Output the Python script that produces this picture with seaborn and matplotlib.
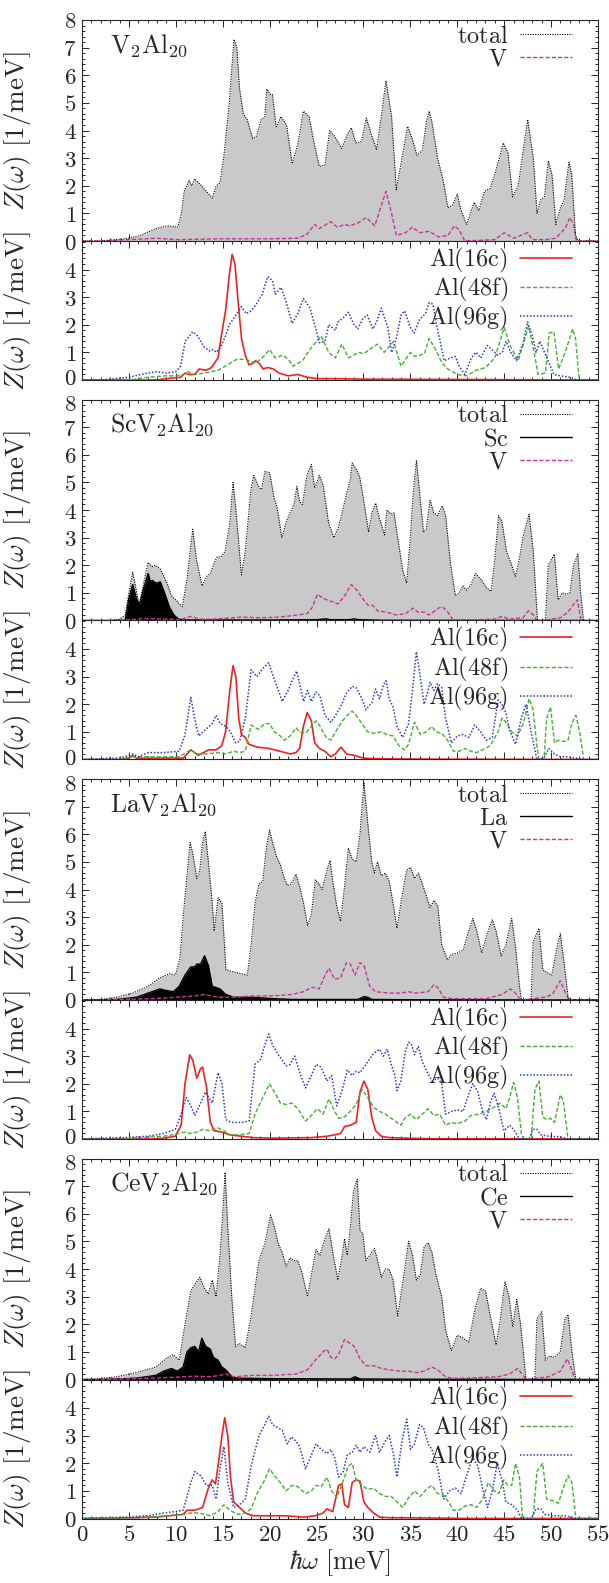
import numpy as np
import matplotlib
matplotlib.use("Agg")
import matplotlib.pyplot as plt
import matplotlib.transforms as mtransforms
import seaborn as sns
from matplotlib.ticker import MultipleLocator, FuncFormatter, FixedLocator

# ---------------- data (meV, 1/meV) ----------------
X_TICKS = [0, 5, 10, 15, 20, 25, 30, 35, 40, 45, 50, 55]

# ---- V2Al20 ----
TOT_V2AL20 = [(0,0),(2,0),(3.7,0.05),(5,0.1),(6.2,0.2),(7.9,0.45),(9.1,0.55),(10.2,0.5),(10.6,1.0),(10.9,1.8),(11.4,2.2),(11.7,2.0),(12.0,2.25),(12.6,2.05),(13.9,1.55),(14.3,2.0),(14.7,2.1),(15.1,3.0),(15.7,5.0),(16.2,7.3),(16.5,7.0),(16.8,5.5),(17.2,4.6),(17.6,4.4),(18.2,3.7),(18.6,3.8),(19.1,4.4),(19.5,4.5),(19.7,5.5),(20.1,5.3),(20.3,5.3),(20.7,4.1),(21.2,4.5),(21.8,4.2),(22.4,2.8),(23.0,3.5),(23.6,4.7),(24.2,4.5),(24.7,3.6),(25.3,2.7),(25.9,2.75),(26.4,4.0),(26.9,3.8),(27.7,3.35),(28.2,3.8),(28.7,4.1),(29.2,3.55),(29.8,3.6),(30.3,4.45),(30.9,3.8),(31.4,3.3),(31.9,4.5),(32.4,5.8),(33.0,4.5),(33.5,1.85),(34.0,2.8),(34.7,4.15),(35.2,3.7),(35.7,3.1),(36.3,3.3),(36.7,4.3),(37.0,4.7),(37.3,4.3),(37.9,3.0),(38.5,2.2),(39.0,1.2),(39.5,1.3),(40.0,1.7),(40.4,1.1),(41.0,0.6),(41.8,1.4),(42.3,1.1),(42.9,1.8),(43.5,1.9),(44.0,2.4),(44.9,3.55),(45.4,3.2),(45.9,1.6),(46.5,2.0),(47.5,4.4),(48.1,3.0),(48.5,1.0),(48.9,1.5),(49.3,1.6),(49.7,2.9),(50.1,2.4),(50.5,0.6),(51.0,1.2),(51.4,1.5),(51.9,2.85),(52.2,2.4),(52.6,0.2),(52.9,0),(55,0)]
V_V2AL20 = [(0,0),(2,0),(5,0.05),(8,0.1),(10,0.05),(15,0.08),(20,0.08),(23,0.1),(24,0.25),(24.8,0.6),(25.3,0.45),(26.5,0.7),(27.2,0.5),(28.0,0.6),(28.5,0.55),(29.4,0.65),(30.3,0.85),(31.2,0.55),(32.4,1.8),(33.0,1.0),(33.5,0.2),(34.5,0.3),(35.2,0.5),(36.0,0.3),(37.0,0.35),(38.0,0.15),(39.0,0.2),(39.7,0.55),(40.2,0.4),(40.8,0.0),(42,0.02),(44,0.05),(45.0,0.3),(46.0,0.1),(47.5,0.3),(48.0,0.05),(49.5,0.05),(50.5,0.1),(51.5,0.45),(52.0,0.85),(52.4,0.6),(52.7,0),(55,0)]
A16_V2AL20 = [(0,0),(8,0),(9,0.05),(10.5,0.1),(11,0.25),(11.4,0.2),(12,0.2),(12.5,0.4),(13.2,0.35),(13.8,0.45),(14.5,0.8),(14.8,1.5),(15.3,2.5),(15.7,3.8),(16.0,4.55),(16.3,4.2),(16.6,3.0),(17.0,1.5),(17.4,0.9),(17.8,0.55),(18.2,0.6),(18.5,0.7),(18.9,0.6),(19.3,0.4),(19.8,0.45),(20.4,0.4),(21,0.25),(22,0.15),(23,0.2),(24,0.1),(25,0.05),(27,0.05),(30,0.03),(40,0.02),(53,0),(55,0)]
A48_V2AL20 = [(0,0),(5,0),(7,0.1),(9,0.15),(10,0.15),(10.8,0.2),(11.3,0.3),(12,0.2),(13,0.25),(14.5,0.35),(15.5,0.55),(16.5,0.75),(17.5,0.75),(18.5,0.6),(19.2,0.8),(20,1.1),(20.6,0.8),(21.4,0.9),(22,0.75),(22.5,0.5),(23.5,0.7),(24.5,1.2),(25.5,1.6),(26.3,1.0),(27,0.8),(27.7,1.3),(28.4,0.8),(29.5,1.0),(30,0.95),(31.5,1.3),(32.2,1.0),(33.2,1.4),(34,0.5),(35,1.0),(35.5,0.85),(36.5,0.95),(37.0,1.5),(37.7,1.1),(38.4,0.6),(39,0.4),(40,0.2),(41,0.15),(42,0.35),(43,0.45),(44,0.8),(45,1.9),(45.7,1.2),(46.5,0.7),(47.6,1.95),(48.2,1.0),(48.6,0.2),(49.4,0.25),(49.8,1.7),(50.3,1.75),(50.8,0.4),(51.5,1.0),(52.3,1.85),(52.6,1.5),(53.0,0),(55,0)]
A96_V2AL20 = [(0,0),(2,0),(5,0.1),(7,0.25),(8,0.3),(9,0.25),(10,0.3),(10.5,0.5),(11,1.4),(11.8,1.75),(12.3,1.6),(13,1.2),(13.6,1.05),(14.0,1.1),(14.3,1.0),(14.8,1.2),(15.3,1.6),(15.7,2.0),(16.3,2.3),(17.0,2.65),(17.5,2.4),(18.0,2.5),(18.5,2.7),(19.2,3.1),(19.8,3.75),(20.3,3.6),(20.6,3.1),(21.2,3.35),(21.7,2.9),(22.4,2.05),(23.0,2.4),(23.6,2.95),(24.3,2.6),(24.8,2.0),(25.3,1.35),(25.9,1.4),(26.3,2.0),(27,1.8),(27.3,2.1),(28,2.3),(28.4,2.45),(29,2.0),(29.4,1.85),(29.9,2.2),(30.4,2.35),(31.0,1.85),(31.4,2.1),(31.9,2.6),(32.6,1.9),(33.0,1.0),(33.5,1.5),(34.0,2.35),(34.4,2.5),(35.0,1.9),(35.4,1.7),(36.0,2.2),(36.6,2.4),(37.0,2.8),(37.4,2.75),(37.8,2.0),(38.3,1.2),(38.6,0.7),(39.3,0.8),(39.8,0.85),(40.2,0.5),(40.8,0.2),(41.5,0.8),(42,1.0),(42.5,0.8),(43.2,1.25),(43.7,1.1),(44.3,0.9),(44.8,1.0),(45.2,1.4),(45.7,1.0),(46.3,0.7),(47.0,1.3),(47.5,2.1),(48.0,1.6),(48.4,1.0),(48.8,1.4),(49.3,1.0),(49.8,0.6),(50.3,0.2),(51,0.15),(52,0.1),(52.8,0),(55,0)]

# ---- ScV2Al20 ----
TOT_SCV2AL20 = [(0,0),(3,0),(4.0,0.05),(4.6,0.2),(5.0,1.0),(5.4,1.75),(6.1,0.55),(6.6,1.4),(7.05,2.1),(7.46,1.95),(7.87,2.0),(8.37,1.85),(9.12,1.3),(9.53,0.9),(10.7,0.5),(11.2,1.5),(11.8,3.3),(12.2,2.2),(12.8,1.25),(13.3,1.6),(13.7,1.7),(14.1,2.1),(14.4,2.3),(14.8,2.3),(15.25,2.5),(15.75,3.5),(16.1,5.0),(16.4,4.0),(17.0,1.65),(17.4,2.5),(18.0,4.7),(18.3,5.25),(18.9,4.8),(19.15,4.75),(19.5,5.4),(20.0,5.35),(20.5,4.4),(20.8,4.1),(21.3,3.0),(21.8,3.6),(22.05,3.8),(22.6,4.2),(22.9,4.85),(23.2,4.3),(23.5,4.2),(24.0,5.3),(24.45,5.65),(24.8,4.8),(25.3,5.25),(25.7,4.9),(26.3,3.5),(26.85,3.0),(27.35,3.4),(27.8,4.0),(28.2,4.6),(28.6,5.1),(28.8,5.7),(29.2,5.5),(29.6,5.2),(30.05,4.3),(30.55,3.2),(30.9,3.9),(31.3,4.25),(31.7,3.7),(32.25,3.1),(32.5,4.0),(32.95,3.85),(33.25,3.9),(33.65,3.0),(34.2,1.8),(34.6,1.35),(35.0,3.0),(35.3,4.6),(35.65,5.8),(36.05,4.4),(36.4,3.2),(36.7,3.3),(37.1,4.35),(37.5,3.9),(37.9,3.8),(38.4,4.15),(38.75,3.8),(39.3,2.0),(39.8,0.9),(40.2,1.0),(40.6,1.25),(41.0,1.1),(41.45,1.3),(41.95,1.7),(42.5,1.5),(43.1,1.2),(43.6,1.05),(44.0,2.2),(44.4,3.8),(44.75,3.6),(45.25,2.5),(45.7,2.1),(46.2,1.6),(46.6,2.2),(47.0,3.0),(47.3,3.4),(47.65,3.85),(48.1,2.5),(48.55,0.0),(49.4,0.0),(49.7,2.0),(50.35,2.4),(50.75,0.75),(51.2,1.0),(51.6,0.95),(52.0,1.0),(52.4,2.0),(52.85,2.4),(53.15,1.0),(53.45,0),(55,0)]
SC_SCV2AL20 = [(0,0),(4.6,0),(5.0,0.8),(5.4,1.3),(5.8,0.8),(6.1,0.55),(6.6,1.2),(7.05,1.7),(7.3,1.4),(7.5,1.45),(7.9,1.35),(8.35,1.4),(8.8,1.0),(9.3,0.5),(9.8,0.2),(10.3,0.05),(11,0.02),(20,0.02),(25,0.03),(26,0.06),(26.5,0.03),(28.5,0.03),(29,0.06),(29.5,0.03),(32,0.01),(55,0)]
V_SCV2AL20 = [(0,0),(3,0),(5,0.03),(7,0.07),(9,0.05),(10.5,0.03),(11.6,0.15),(12.5,0.05),(14,0.05),(17,0.12),(19,0.1),(21,0.12),(23,0.2),(24,0.25),(24.5,0.45),(25.1,0.95),(25.7,0.8),(26.5,0.7),(27.3,0.6),(28.0,0.9),(28.7,1.3),(29.3,1.1),(30,0.75),(30.5,0.55),(31,0.55),(31.5,0.35),(32.5,0.3),(33.5,0.2),(34.5,0.25),(35.3,0.45),(35.8,0.3),(36.5,0.3),(37,0.2),(38.0,0.45),(38.4,0.5),(39.0,0.3),(39.6,0.0),(40,0.0),(44,0.05),(44.8,0.15),(45.5,0.05),(47,0.1),(47.6,0.35),(48.1,0.2),(48.5,0),(49.4,0),(50,0.05),(51,0.1),(51.8,0.3),(52.3,0.55),(52.8,0.75),(53.2,0),(55,0)]
A16_SCV2AL20 = [(0,0),(4,0),(5.0,0.05),(5.4,0.15),(5.8,0.05),(7,0.05),(9,0.05),(10.8,0.05),(11.6,0.35),(12.4,0.15),(13.5,0.35),(14.3,0.35),(14.9,0.5),(15.3,1.0),(15.75,2.5),(16.1,3.4),(16.4,3.0),(16.7,1.5),(17.0,0.9),(17.4,0.8),(17.8,0.55),(18.65,0.45),(19.9,0.4),(21.1,0.3),(22.2,0.2),(22.8,0.25),(23.2,0.4),(23.6,1.2),(24.0,1.7),(24.45,1.4),(24.8,0.6),(25.3,0.4),(25.9,0.3),(26.5,0.1),(27.0,0.2),(27.6,0.45),(28.2,0.2),(29.0,0.15),(30.0,0.05),(31,0.03),(33,0.02),(40,0.01),(55,0)]
A48_SCV2AL20 = [(0,0),(4,0),(4.56,0.05),(5.39,0.1),(7.05,0.1),(8.7,0.1),(10.36,0.1),(11.6,0.35),(12.23,0.2),(13.26,0.2),(14.5,0.25),(15.33,0.2),(16.16,0.3),(16.79,0.25),(17.41,0.3),(18.03,1.25),(18.44,1.15),(18.86,1.1),(19.48,1.3),(19.98,1.3),(20.5,1.0),(21.14,0.85),(21.55,0.7),(22.17,0.85),(22.8,1.15),(23.2,1.0),(23.83,0.95),(24.45,1.2),(24.95,1.4),(25.37,1.2),(26.03,0.8),(26.53,0.7),(27.02,1.0),(27.77,1.4),(28.4,1.65),(28.8,1.75),(29.22,1.6),(29.84,1.3),(30.46,1.0),(31.08,0.95),(31.91,1.0),(32.53,0.9),(33.16,0.85),(33.78,0.5),(34.4,0.35),(34.8,0.55),(35.44,1.35),(36.06,0.9),(36.68,1.0),(37.3,1.2),(37.72,1.0),(38.34,0.95),(38.96,0.7),(39.58,0.3),(40.2,0.3),(40.83,0.4),(41.45,0.3),(42.07,0.25),(42.69,0.35),(43.52,0.5),(44.35,1.0),(44.76,1.5),(45.18,1.35),(45.8,1.0),(46.42,0.85),(47.04,1.3),(47.66,2.2),(48.08,1.8),(48.49,0.5),(48.7,0),(49.24,0),(49.53,1.5),(49.94,1.9),(50.36,0.6),(50.77,0.7),(51.4,0.65),(51.8,0.7),(52.2,1.3),(52.64,1.6),(53.05,1.0),(53.47,0),(55,0)]
A96_SCV2AL20 = [(0,0),(2.07,0.03),(3.73,0.05),(4.56,0.1),(5.39,0.2),(6.0,0.1),(7.05,0.25),(8.7,0.25),(10.36,0.3),(10.98,0.9),(11.6,2.25),(12.0,1.5),(12.43,0.85),(13.06,1.05),(13.88,1.3),(14.3,1.6),(14.71,1.3),(15.33,1.2),(15.83,1.0),(16.37,0.6),(16.79,0.65),(17.41,1.5),(18.03,3.25),(18.65,3.0),(19.27,3.3),(19.9,3.5),(20.5,2.9),(20.93,2.5),(21.34,2.1),(21.97,2.5),(22.59,3.0),(22.88,3.2),(23.29,2.6),(23.62,2.1),(24.04,2.5),(24.45,2.1),(24.95,2.45),(25.37,2.3),(25.9,1.6),(26.53,1.35),(27.02,1.6),(27.56,1.9),(28.18,2.4),(28.8,2.65),(29.22,2.6),(29.84,2.2),(30.26,1.8),(30.88,2.05),(31.29,2.55),(31.71,2.2),(32.12,2.7),(32.41,2.85),(32.74,2.2),(33.16,1.9),(33.57,1.2),(34.19,0.8),(34.81,1.3),(35.23,2.5),(35.64,3.9),(35.97,3.2),(36.47,2.0),(36.89,2.5),(37.1,2.8),(37.51,2.5),(37.92,2.75),(38.34,2.6),(38.75,1.5),(39.37,0.6),(40.0,0.85),(40.62,0.9),(41.24,0.8),(41.86,1.25),(42.48,1.0),(43.1,0.7),(43.73,0.8),(44.35,2.15),(44.76,2.0),(45.18,1.7),(45.59,1.05),(46.21,0.55),(46.83,1.5),(47.33,2.0),(47.87,1.0),(48.49,0.0),(49.24,0.05),(49.74,0.4),(50.36,0.2),(50.98,0.1),(51.8,0.1),(52.64,0.05),(53.47,0),(55,0)]

# ---- LaV2Al20 ----
TOT_LAV2AL20 = [(0,0),(2.07,0.02),(3.73,0.1),(5.39,0.25),(7.05,0.5),(8.29,0.8),(9.33,0.95),(9.95,0.9),(10.44,1.5),(10.78,3.0),(11.19,4.5),(11.52,5.7),(11.81,5.3),(12.23,4.4),(12.52,4.6),(12.85,5.7),(13.14,6.1),(13.47,5.0),(13.88,3.5),(14.09,2.5),(14.51,3.7),(14.92,3.5),(15.34,1.1),(15.75,1.05),(16.37,1.0),(16.99,0.95),(17.62,0.9),(18.03,2.0),(18.44,3.5),(18.86,4.2),(19.27,4.3),(19.69,5.6),(19.98,6.15),(20.31,5.7),(20.72,5.2),(21.14,4.9),(21.47,4.5),(21.88,4.15),(22.3,4.2),(22.8,4.55),(23.21,4.1),(23.62,3.5),(24.04,2.7),(24.45,3.1),(24.87,4.35),(25.28,4.2),(25.61,4.0),(26.11,4.7),(26.44,5.05),(26.73,4.3),(27.15,3.4),(27.56,2.85),(27.98,4.1),(28.39,5.5),(28.8,5.1),(29.22,5.0),(29.63,6.0),(30.05,7.85),(30.46,6.4),(30.88,5.0),(31.17,4.6),(31.5,5.0),(31.91,4.5),(32.33,4.6),(32.74,4.3),(33.16,3.5),(33.57,2.6),(33.99,3.5),(34.61,4.7),(35.02,4.8),(35.44,4.4),(35.85,4.6),(36.27,4.2),(36.68,3.8),(37.1,3.35),(37.51,3.6),(37.92,3.4),(38.34,2.0),(38.96,1.45),(39.37,1.65),(40.0,1.7),(40.62,1.8),(41.03,2.3),(41.65,2.95),(42.07,2.5),(42.61,1.7),(43.19,2.4),(43.73,2.9),(44.14,2.5),(44.68,1.6),(45.18,2.0),(45.8,2.95),(46.21,1.9),(46.63,0.5),(46.83,0.0),(47.87,0.0),(48.08,2.1),(48.7,2.6),(49.11,1.1),(49.53,1.0),(50.07,0.9),(50.57,1.8),(50.98,2.4),(51.4,1.3),(51.81,0.1),(52.02,0),(55,0)]
LA_LAV2AL20 = [(0,0),(2,0),(3.73,0.02),(5.8,0.1),(7.46,0.3),(8.29,0.4),(8.91,0.35),(9.74,0.3),(10.36,0.5),(10.98,0.9),(11.6,1.2),(12.02,1.2),(12.23,1.3),(12.64,1.3),(13.06,1.6),(13.47,1.25),(13.88,0.5),(14.3,0.45),(14.71,0.4),(15.33,0.2),(16.16,0.1),(18.24,0.1),(20.31,0.05),(22.38,0.02),(29.4,0.02),(30.05,0.12),(30.46,0.1),(30.9,0.02),(35,0.01),(55,0)]
V_LAV2AL20 = [(0,0),(2,0),(3.7,0.02),(7.9,0.05),(12.0,0.15),(13.06,0.2),(14.5,0.1),(16.2,0.1),(18.2,0.15),(20.3,0.15),(22.4,0.2),(23.6,0.3),(24.45,0.45),(24.87,0.45),(25.28,0.4),(25.9,0.9),(26.32,1.15),(26.94,0.75),(27.56,0.8),(28.18,1.35),(28.6,1.3),(29.1,0.9),(29.63,1.35),(30.05,1.25),(30.67,0.5),(31.29,0.3),(32.74,0.25),(34.0,0.25),(34.8,0.3),(35.64,0.25),(36.89,0.3),(37.5,0.55),(37.92,0.45),(38.54,0.1),(39.37,0.05),(41.0,0.05),(43.1,0.05),(44.76,0.2),(45.67,0.4),(46.21,0.25),(46.75,0.0),(48.08,0.05),(49.32,0.1),(50.15,0.2),(50.98,0.7),(51.48,0.3),(51.9,0),(55,0)]
A16_LAV2AL20 = [(0,0),(7.46,0),(8.7,0.03),(9.95,0.1),(10.57,0.5),(10.98,2.0),(11.48,3.05),(11.81,2.85),(12.23,2.2),(12.64,2.55),(12.85,2.6),(13.26,1.9),(13.68,0.6),(14.09,0.3),(14.92,0.25),(15.75,0.15),(16.99,0.1),(18.24,0.05),(20.31,0.03),(24.45,0.05),(26.11,0.1),(26.94,0.15),(27.56,0.2),(27.98,0.45),(28.6,0.5),(29.22,0.6),(29.63,1.7),(30.05,2.1),(30.46,1.8),(30.88,0.8),(31.29,0.3),(31.91,0.1),(32.74,0.05),(34.8,0.03),(36.9,0.01),(55,0)]
A48_LAV2AL20 = [(0,0),(4,0),(6.2,0.05),(8.7,0.1),(10.36,0.2),(10.98,0.25),(11.6,0.2),(12.23,0.25),(12.85,0.35),(13.68,0.3),(14.5,0.4),(15.13,0.3),(15.75,0.15),(16.58,0.15),(17.82,0.2),(18.44,0.9),(19.27,1.5),(19.98,2.0),(20.52,1.7),(21.14,1.3),(21.76,1.25),(22.38,1.3),(23.0,1.1),(23.83,0.65),(24.45,0.85),(25.07,1.1),(25.7,0.9),(26.32,1.45),(26.94,1.0),(27.35,0.75),(27.98,0.8),(28.6,1.0),(29.22,1.25),(29.84,1.8),(30.46,1.5),(31.08,1.15),(31.71,1.0),(32.33,0.9),(33.16,0.7),(33.99,0.5),(34.4,0.75),(35.02,0.9),(35.64,0.7),(36.27,0.9),(36.89,1.1),(37.51,0.85),(38.13,0.9),(38.75,0.5),(39.37,0.6),(40.0,0.55),(40.83,0.65),(41.45,0.85),(42.28,0.9),(43.1,1.0),(43.93,1.15),(44.56,1.3),(45.18,1.1),(45.59,1.5),(46.0,2.05),(46.42,1.5),(46.83,0.2),(47.04,0.0),(47.87,0.0),(48.28,1.8),(48.7,2.1),(49.11,0.8),(49.53,0.7),(49.94,0.75),(50.36,0.6),(50.98,1.6),(51.31,1.4),(51.8,0.0),(55,0)]
A96_LAV2AL20 = [(0,0),(1.66,0.02),(4.56,0.05),(7.05,0.1),(8.7,0.2),(9.95,0.35),(10.57,0.9),(11.11,1.5),(11.6,1.2),(12.02,0.85),(12.64,1.3),(13.14,1.7),(13.6,1.45),(13.88,1.3),(14.5,2.4),(14.92,2.0),(15.33,0.7),(15.96,0.6),(16.99,0.6),(17.82,0.65),(18.44,2.7),(19.07,2.9),(19.48,3.4),(19.9,3.8),(20.31,3.4),(20.93,3.05),(21.76,2.65),(22.17,2.7),(22.67,3.0),(23.21,2.4),(23.83,1.85),(24.45,2.3),(24.95,2.7),(25.49,2.6),(26.11,2.1),(26.61,2.3),(27.15,1.2),(27.77,1.8),(28.27,2.5),(28.8,2.3),(29.22,2.45),(29.63,2.4),(30.26,2.7),(31.08,3.1),(31.71,3.25),(32.12,3.0),(32.54,3.25),(32.95,2.7),(33.36,2.3),(33.57,1.75),(33.99,2.1),(34.48,3.2),(34.81,3.5),(35.15,3.4),(35.44,3.05),(35.85,3.35),(36.27,2.8),(36.68,2.5),(37.3,2.1),(37.92,2.2),(38.34,2.0),(38.75,0.9),(39.37,1.0),(40.0,1.05),(40.62,1.0),(41.24,1.65),(41.65,2.0),(42.19,1.7),(42.69,1.0),(43.1,0.7),(43.6,1.4),(43.93,1.65),(44.35,1.2),(44.97,0.3),(45.59,0.5),(46.0,0.35),(46.63,0.0),(47.66,0.0),(48.08,0.35),(48.49,0.35),(48.91,0.15),(49.74,0.1),(50.98,0.08),(51.8,0),(55,0)]

# ---- CeV2Al20 ----
TOT_CEV2AL20 = [(0,0),(1.66,0.02),(3.73,0.1),(5.8,0.25),(7.87,0.45),(9.12,0.8),(9.74,0.9),(10.36,0.7),(10.98,2.0),(11.6,3.2),(12.02,3.45),(12.56,3.7),(13.06,3.3),(13.47,3.1),(13.88,3.6),(14.3,3.0),(14.71,4.5),(15.0,6.0),(15.25,7.5),(15.54,5.5),(15.96,3.0),(16.37,1.2),(16.79,1.3),(17.41,1.15),(18.03,2.3),(18.86,4.3),(19.48,4.9),(20.1,5.95),(20.52,5.5),(20.93,4.9),(21.34,4.6),(21.76,4.1),(22.17,4.4),(22.59,4.3),(23.0,4.3),(23.42,3.9),(24.04,3.0),(24.45,3.8),(24.95,4.7),(25.37,4.5),(25.9,5.1),(26.32,5.45),(26.73,4.6),(27.27,3.6),(27.69,4.4),(27.98,5.1),(28.27,4.5),(28.6,5.5),(28.93,6.8),(29.34,7.25),(29.63,5.4),(29.92,5.3),(30.26,4.3),(30.67,4.5),(31.17,4.75),(31.58,4.2),(31.91,3.7),(32.33,4.0),(32.74,4.0),(33.16,3.6),(33.65,2.3),(34.19,3.5),(34.81,5.0),(35.23,4.5),(35.64,3.6),(36.06,3.8),(36.47,4.8),(36.89,4.95),(37.3,4.6),(37.72,3.8),(38.34,3.0),(38.75,1.8),(39.37,1.05),(40.0,1.6),(40.62,1.5),(41.24,1.35),(41.86,2.5),(42.48,3.3),(43.02,3.2),(43.52,2.3),(44.14,1.25),(44.56,2.1),(45.09,3.55),(45.51,3.0),(45.92,1.9),(46.34,2.9),(46.75,2.0),(47.17,0.5),(47.33,0.0),(48.28,0.0),(48.49,2.2),(48.99,2.45),(49.4,0.7),(49.82,0.85),(50.36,0.8),(50.98,1.0),(51.48,2.2),(51.81,2.35),(52.22,1.0),(52.64,0),(55,0)]
CE_CEV2AL20 = [(0,0),(2,0),(3.73,0.02),(5.8,0.05),(7.87,0.15),(8.7,0.3),(9.53,0.4),(10.15,0.3),(10.78,0.45),(11.19,1.0),(11.6,1.15),(12.02,1.2),(12.43,1.0),(12.77,1.5),(13.18,1.2),(13.68,1.1),(14.0,0.8),(14.5,0.7),(14.92,0.45),(15.33,0.35),(15.96,0.1),(16.58,0.05),(20.31,0.03),(28.6,0.02),(29.1,0.1),(29.63,0.02),(35,0.01),(55,0)]
V_CEV2AL20 = [(0,0),(2,0),(3.7,0.02),(7.9,0.05),(12.0,0.12),(13.68,0.1),(14.71,0.15),(15.33,0.2),(16.16,0.1),(18.24,0.15),(20.31,0.15),(22.8,0.2),(24.04,0.35),(24.87,0.7),(25.7,1.0),(26.11,1.1),(26.53,0.8),(26.94,0.75),(27.35,0.9),(27.98,1.45),(28.39,1.35),(29.01,1.2),(29.63,0.75),(30.26,0.5),(31.08,0.5),(31.91,0.4),(32.74,0.35),(33.99,0.3),(34.81,0.3),(35.64,0.25),(36.47,0.3),(37.3,0.45),(37.92,0.35),(38.75,0.1),(39.37,0.05),(41.03,0.05),(44.35,0.1),(45.59,0.2),(46.42,0.4),(46.91,0.2),(47.33,0.0),(48.49,0.05),(49.74,0.1),(50.98,0.3),(51.73,0.75),(52.14,0.4),(52.56,0),(55,0)]
A16_CEV2AL20 = [(0,0),(3.73,0.01),(7.87,0.05),(10.78,0.15),(11.19,0.3),(12.02,0.3),(12.85,0.4),(13.47,1.1),(13.88,1.4),(14.22,1.25),(14.5,1.9),(14.92,3.0),(15.21,3.65),(15.54,3.0),(15.83,1.5),(16.16,0.6),(16.79,0.4),(17.41,0.2),(18.24,0.1),(20.31,0.1),(21.55,0.1),(23.62,0.05),(24.87,0.1),(25.7,0.2),(26.11,0.35),(26.73,0.25),(27.35,1.2),(27.69,1.25),(27.98,0.5),(28.39,0.4),(28.8,1.3),(29.22,1.4),(29.63,1.35),(30.05,0.6),(30.46,0.4),(31.08,0.2),(31.71,0.05),(32.74,0.03),(36.89,0.02),(41.03,0.0),(55,0)]
A48_CEV2AL20 = [(0,0),(4,0),(5.8,0.03),(8.7,0.08),(10.78,0.15),(11.6,0.2),(12.43,0.2),(13.68,0.1),(14.5,0.25),(15.13,0.5),(15.75,0.3),(16.58,0.15),(17.41,0.2),(18.03,0.35),(18.65,0.9),(19.48,1.4),(19.98,1.8),(20.52,1.55),(21.14,1.3),(21.76,1.0),(22.38,1.2),(23.0,1.15),(23.83,0.9),(24.45,1.0),(24.95,1.2),(25.49,1.15),(26.11,1.5),(26.61,1.0),(27.15,0.75),(27.77,1.3),(28.39,1.9),(28.8,2.0),(29.22,1.4),(29.84,1.2),(30.46,1.05),(31.08,1.1),(31.71,0.9),(32.33,0.8),(32.95,0.8),(33.57,0.6),(34.19,0.4),(34.81,0.75),(35.44,1.0),(36.06,0.8),(36.68,1.05),(37.3,1.2),(37.92,0.9),(38.54,0.85),(39.17,0.55),(39.58,0.3),(40.2,0.3),(40.83,0.45),(41.45,0.5),(42.07,0.4),(42.69,0.7),(43.31,1.3),(43.93,1.0),(44.43,0.9),(44.97,1.4),(45.38,1.2),(45.8,1.2),(46.21,2.0),(46.63,1.5),(46.96,0.0),(48.08,0.0),(48.49,1.7),(49.11,2.0),(49.53,0.7),(50.15,0.65),(50.77,0.55),(51.4,1.2),(51.81,1.55),(52.22,1.3),(52.64,0.0),(55,0)]
A96_CEV2AL20 = [(0,0),(1.66,0.02),(4.56,0.05),(7.05,0.1),(8.7,0.2),(9.95,0.25),(10.78,0.3),(11.6,1.3),(12.02,1.7),(12.64,1.55),(13.26,1.2),(13.88,1.2),(14.3,0.7),(14.71,1.8),(15.13,2.6),(15.54,1.3),(16.16,0.4),(16.79,0.5),(17.41,0.7),(18.03,1.9),(18.86,3.0),(19.48,3.4),(19.9,3.7),(20.31,3.4),(20.81,3.3),(21.34,3.2),(21.88,2.7),(22.3,2.95),(22.8,2.8),(23.21,2.6),(23.83,1.8),(24.45,2.3),(24.95,2.7),(25.49,2.5),(26.11,2.35),(26.53,2.5),(26.94,2.2),(27.35,1.5),(27.85,1.7),(28.27,2.3),(28.8,2.4),(29.22,2.65),(29.63,2.4),(30.05,2.6),(30.67,2.4),(31.29,3.0),(31.71,2.4),(32.33,2.8),(32.74,3.0),(33.16,2.4),(33.57,1.5),(34.11,2.8),(34.61,3.6),(35.02,2.5),(35.44,2.7),(35.97,3.4),(36.39,3.3),(36.89,2.7),(37.3,2.5),(37.92,1.8),(38.54,0.7),(39.17,1.0),(39.79,1.1),(40.41,0.9),(41.03,1.6),(41.65,2.2),(42.19,1.9),(42.69,1.1),(43.23,0.4),(43.73,1.0),(44.26,2.0),(44.76,1.4),(45.18,0.6),(45.8,0.5),(46.42,0.3),(46.83,0.0),(47.87,0.0),(48.41,0.35),(48.91,0.35),(49.32,0.15),(50.15,0.1),(51.4,0.1),(52.22,0.05),(52.64,0),(55,0)]

COMPOUND_LABELS = [r"$\mathrm{V_2Al_{20}}$", r"$\mathrm{ScV_2Al_{20}}$",
                   r"$\mathrm{LaV_2Al_{20}}$", r"$\mathrm{CeV_2Al_{20}}$"]
GUEST_NAMES = [None, "Sc", "La", "Ce"]
TOTALS = [TOT_V2AL20, TOT_SCV2AL20, TOT_LAV2AL20, TOT_CEV2AL20]
GUESTS = [None, SC_SCV2AL20, LA_LAV2AL20, CE_CEV2AL20]
VPDOS = [V_V2AL20, V_SCV2AL20, V_LAV2AL20, V_CEV2AL20]
AL16 = [A16_V2AL20, A16_SCV2AL20, A16_LAV2AL20, A16_CEV2AL20]
AL48 = [A48_V2AL20, A48_SCV2AL20, A48_LAV2AL20, A48_CEV2AL20]
AL96 = [A96_V2AL20, A96_SCV2AL20, A96_LAV2AL20, A96_CEV2AL20]

# ---------------- style ----------------
sns.set_style("ticks")
plt.rcParams["font.family"] = ["DejaVu Serif", "DejaVu Sans"]
plt.rcParams["mathtext.fontset"] = "cm"
plt.rcParams["axes.linewidth"] = 0.8

GRAY = "#c9c9c9"
MAGENTA = "#cc3399"
RED = "#ee2222"
GREEN = "#44b030"
BLUE = "#2838c0"
FS_TICK = 16.5
FS_LEG = 17.5
FS_NAME = 18.5
FS_YL = 19.5

W, H = 609, 1583
fig = plt.figure(figsize=(W / 100, H / 100), dpi=100)

LEFT, RIGHT = 82, 598
TOP0, PERIOD, TOT_H, AL_H = 20, 379.5, 221, 139


def xy(pts):
    a = np.asarray(pts, dtype=float)
    return a[:, 0], a[:, 1]


fmt = FuncFormatter(lambda v, p: f"${v:.0f}$")


def style_axis(ax, ymax, yticks, show_x):
    ax.set_xlim(0, 55)
    ax.set_ylim(0, ymax)
    ax.xaxis.set_major_locator(FixedLocator(X_TICKS))
    ax.xaxis.set_minor_locator(MultipleLocator(1))
    ax.yaxis.set_major_locator(FixedLocator(yticks))
    ax.yaxis.set_minor_locator(MultipleLocator(0.2))
    ax.yaxis.set_major_formatter(fmt)
    ax.xaxis.set_major_formatter(fmt)
    ax.tick_params(which="both", direction="in", top=True, right=True,
                   labelsize=FS_TICK, width=0.7)
    ax.tick_params(which="major", length=5, pad=4)
    ax.tick_params(which="minor", length=2.5)
    if not show_x:
        ax.tick_params(axis="x", labelbottom=False)
    ax.set_xlabel("")
    ax.set_ylabel(r"$Z(\omega)\ [1/\mathrm{meV}]$", fontsize=FS_YL)
    ax.yaxis.set_label_coords(-0.095, 0.5)
    for s in ax.spines.values():
        s.set_linewidth(0.8)


def legend(ax):
    ax.legend(loc="upper right", bbox_to_anchor=(0.96, 1.0), frameon=False,
              markerfirst=False, fontsize=FS_LEG, handlelength=2.15,
              handletextpad=0.5, labelspacing=0.0, borderaxespad=0.1,
              borderpad=0.1)


tot_axes, al_axes = [], []
for k in range(4):
    top = TOP0 + k * PERIOD
    mid = top + TOT_H
    bot = mid + AL_H
    axT = fig.add_axes([LEFT / W, 1 - mid / H, (RIGHT - LEFT) / W, TOT_H / H])
    axA = fig.add_axes([LEFT / W, 1 - bot / H, (RIGHT - LEFT) / W, AL_H / H])
    tot_axes.append(axT)
    al_axes.append(axA)

    # total / partial panel
    x, y = xy(TOTALS[k])
    axT.fill_between(x, y, 0, color=GRAY, lw=0, zorder=1)
    sns.lineplot(x=x, y=y, ax=axT, color="black", lw=0.8,
                 linestyle=(0, (1, 1.2)), label=r"$\mathrm{total}$",
                 sort=False, estimator=None, zorder=5)
    if GUESTS[k] is not None:
        gx, gy = xy(GUESTS[k])
        axT.fill_between(gx, gy, 0, color="black", lw=0, zorder=2)
        sns.lineplot(x=gx, y=gy, ax=axT, color="black", lw=1.0,
                     label=r"$\mathrm{%s}$" % GUEST_NAMES[k],
                     sort=False, estimator=None, zorder=3)
    vx, vy = xy(VPDOS[k])
    sns.lineplot(x=vx, y=vy, ax=axT, color=MAGENTA, lw=1.0,
                 linestyle=(0, (3, 1.5)), label=r"$\mathrm{V}$",
                 sort=False, estimator=None, zorder=4)
    axT.text(0.055, 0.885, COMPOUND_LABELS[k], transform=axT.transAxes,
             fontsize=FS_NAME, va="center", ha="left")
    style_axis(axT, 8, [0, 1, 2, 3, 4, 5, 6, 7, 8], False)
    legend(axT)

    # Al panel
    for pts, col, ls, lab, lw in [
        (AL16[k], RED, "-", r"$\mathrm{Al(16c)}$", 1.2),
        (AL48[k], GREEN, (0, (3, 1.5)), r"$\mathrm{Al(48f)}$", 1.0),
        (AL96[k], BLUE, (0, (1, 1.2)), r"$\mathrm{Al(96g)}$", 1.1),
    ]:
        ax_, ay_ = xy(pts)
        sns.lineplot(x=ax_, y=ay_, ax=axA, color=col, lw=lw, linestyle=ls,
                     label=lab, sort=False, estimator=None)
    style_axis(axA, AL_H / (TOT_H / 8), [0, 1, 2, 3, 4], k == 3)
    legend(axA)
    if k == 3:
        axA.set_xlabel(r"$\hbar\omega\ [\mathrm{meV}]$", fontsize=18.5, labelpad=1)

# nudge the crowded "0" / "8" tick labels between stacked panels apart a little
fig.canvas.draw()
up = mtransforms.ScaledTranslation(0, 2.5 / 72, fig.dpi_scale_trans)
down = mtransforms.ScaledTranslation(0, -2.5 / 72, fig.dpi_scale_trans)
for k in range(3):
    t0 = al_axes[k].yaxis.get_major_ticks()[0]
    t0.label1.set_transform(t0.label1.get_transform() + up)
    t8 = tot_axes[k + 1].yaxis.get_major_ticks()[-1]
    t8.label1.set_transform(t8.label1.get_transform() + down)

fig.savefig("out.png", dpi=100)
